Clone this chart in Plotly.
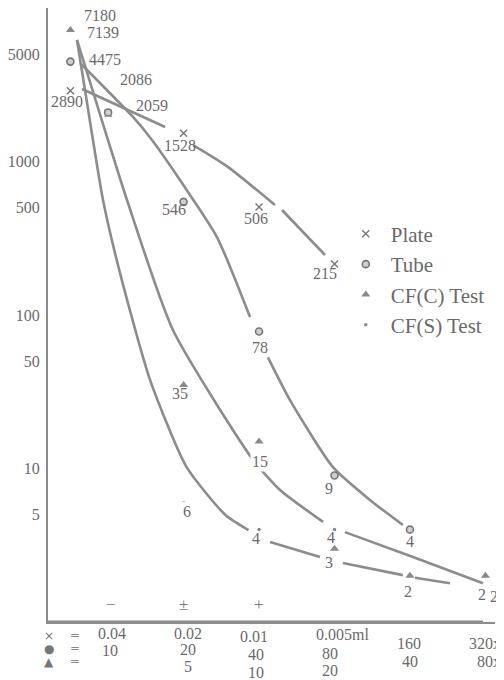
import numpy as np
import plotly.graph_objects as go

# ---------------- data ----------------
# column positions: 0.5 = undiluted, 1..6 = dilution steps
plate_x = [0.5, 1, 2, 3, 4]
plate_y = [2890, 2059, 1528, 506, 215]
tube_x = [0.5, 1, 2, 3, 4, 5]
tube_y = [4475, 2086, 546, 78, 9, 4]
cfc_x = [0.5, 2, 3, 4, 5, 6]
cfc_y = [7180, 35, 15, 3, 2, 2]
cfs_x = [0.5, 2, 3, 4, 6]
cfs_y = [7139, 6, 4, 4, 2]

# hand-drawn curves (None = break in the stroke)
curve_a_x = [0.587, 0.799, 0.932, 1.157, 1.555, 2.04, 2.555, 2.86, None, 3.146, 3.808, None, 4.111, 4.906, None, 5.066, 5.53]
curve_a_y = [6190, 1380, 561, 188, 37.8, 10.2, 4.98, 3.97, None, 3.32, 2.65, None, 2.42, 2.02, None, 1.94, 1.79]
curve_b_x = [0.587, 0.998, 1.25, 1.859, 2.92, 3.278, 3.848, None, 4.138, 5.04, 5.968]
curve_b_y = [6190, 1380, 561, 79.8, 11.4, 7.24, 4.49, None, 3.85, 2.65, 1.79]
curve_tube_x = [0.628, 1.33, 1.581, 1.952, 2.442, 2.88, None, 3.118, 3.41, 3.98, 4.469, 4.906]
curve_tube_y = [4385, 1950, 1380, 757, 322, 97, None, 53, 27.9, 10.2, 6.24, 4.29]
curve_plate_x = [0.654, 1.755, None, 2.126, 2.577, 3.211, None, 3.304, 3.874]
curve_plate_y = [2965, 1679, None, 1279, 930, 521, None, 483, 246]

ref_levels = [10, 5]

y_tick_vals = [5, 10, 50, 100, 500, 1000, 5000]
y_tick_text = ["5", "10", "50", "100", "500", "1000", "5000"]

plate_ticks = ["0.04", "0.02", "0.01", "0.005ml"]          # columns 1-4
tube_ticks = ["10", "20", "40", "80", "160", "320x"]        # columns 1-6
cfc_ticks = ["5", "10", "20", "40", "80x"]                  # columns 2-6

bottom_marks = ["−", "±", "+"]                               # columns 1-3
bottom_level = 1.31

# ---------------- style ----------------
SERIF = "Liberation Serif, Times New Roman, serif"
TXT = "#6a6a6a"
LINE = "#8c8c8c"

fig = go.Figure()

def curve(xs, ys):
    fig.add_trace(go.Scatter(
        x=xs, y=ys, mode="lines", showlegend=False, hoverinfo="skip",
        line=dict(color=LINE, width=2.6, shape="spline", smoothing=0.6),
        connectgaps=False))

curve(curve_a_x, curve_a_y)
curve(curve_b_x, curve_b_y)
curve(curve_tube_x, curve_tube_y)
curve(curve_plate_x, curve_plate_y)

fig.add_trace(go.Scatter(x=plate_x, y=plate_y, mode="markers", name="Plate",
                         marker=dict(symbol="x-thin-open", size=7, color="#777",
                                     line=dict(width=1.4, color="#777")), cliponaxis=False))
fig.add_trace(go.Scatter(x=tube_x, y=tube_y, mode="markers", name="Tube",
                         marker=dict(symbol="circle", size=7, color="#cfcfcf",
                                     line=dict(width=1.6, color="#777")), cliponaxis=False))
fig.add_trace(go.Scatter(x=cfc_x, y=cfc_y, mode="markers", name="CF(C) Test",
                         marker=dict(symbol="triangle-up", size=8, color="#8a8a8a"), cliponaxis=False))
fig.add_trace(go.Scatter(x=cfs_x, y=cfs_y, mode="markers", name="CF(S) Test",
                         marker=dict(symbol="circle", size=3.5, color="#888"), cliponaxis=False))

annotations = []

def lab(x, v, text, dx, dy, size=16):
    annotations.append(dict(x=x, y=float(np.log10(v)), xref="x", yref="y", text=text,
                            showarrow=False, xshift=dx, yshift=-dy,
                            font=dict(family=SERIF, size=size, color=TXT),
                            bgcolor="rgba(255,255,255,0)"))

# point labels: (dx, dy) pixel offsets of the number from its marker
plate_off = [(-3, 11), (44, -8), (-4, 12), (-3, 12), (-10, 10)]
tube_off = [(35, -2), (28, -33), (-10, 8), (1, 16), (-6, 13), (0, 12)]
cfc_off = [(30, -15), (-4, 9), (1, 20), (-6, 14), (-2, 16), (-3, 19)]
cfs_off = [(33, 2), (3, 9), (-3, 9), (-4, 8), (9, 21)]

for xs, ys, offs in [(plate_x, plate_y, plate_off), (tube_x, tube_y, tube_off),
                     (cfc_x, cfc_y, cfc_off), (cfs_x, cfs_y, cfs_off)]:
    for x, v, (dx, dy) in zip(xs, ys, offs):
        lab(x, v, str(v), dx, dy)

# white patches behind labels that interrupt the reference lines
for a in annotations:
    if a["text"] in ("6", "15"):
        a["bgcolor"] = "white"

# bottom +/- marks
for i, m in enumerate(bottom_marks):
    annotations.append(dict(x=i + 1, y=float(np.log10(bottom_level)), xref="x", yref="y",
                            text=m, showarrow=False, xshift=3 if i == 0 else 0,
                            font=dict(family=SERIF, size=17, color="#777")))

# multi-row x tick labels
def xt(col, text, below, dx, anchor="center"):
    annotations.append(dict(x=col, y=0, xref="x", yref="paper", text=text, showarrow=False,
                            xshift=dx, yshift=-below, yanchor="middle", xanchor=anchor,
                            font=dict(family=SERIF, size=16, color=TXT)))

plate_rows = [(11, 4), (11, 4), (14, -5), (12, 8)]
tube_rows = [(28, 2), (27, 4), (32, -3), (31, -5), (21, -1), (21, 18)]
cfc_rows = [(44, 4), (50, -3), (48, -5), (39, 0), (39, 18)]
for i, t in enumerate(plate_ticks):
    xt(i + 1, t, *plate_rows[i])
for i, t in enumerate(tube_ticks):
    b, dx = tube_rows[i]
    xt(i + 1, t, b, dx, "right" if i == 5 else "center")
for i, t in enumerate(cfc_ticks):
    b, dx = cfc_rows[i]
    xt(i + 2, t, b, dx, "right" if i == 4 else "center")

# key at bottom-left
for sym, below in [("×", 14), ("●", 27), ("▲", 40)]:
    annotations.append(dict(x=0, y=0, xref="paper", yref="paper", text=sym, showarrow=False,
                            xshift=1, yshift=-below, yanchor="middle", xanchor="center",
                            font=dict(family="DejaVu Sans", size=12, color="#777")))
    annotations.append(dict(x=0, y=0, xref="paper", yref="paper", text="=", showarrow=False,
                            xshift=27, yshift=-below + 1, yanchor="middle", xanchor="center",
                            font=dict(family="DejaVu Sans", size=12, color="#888")))

shapes = []
for lvl, x1 in zip(ref_levels, [0.973, 0.996]):
    shapes.append(dict(type="line", xref="paper", yref="y", x0=0, x1=x1,
                       y0=float(np.log10(lvl)), y1=float(np.log10(lvl)),
                       line=dict(color="#8a8a8a", width=3), layer="below"))

# the page body adds an 8px offset, so the figure is 8px smaller than the window
fig.update_layout(
    width=496, height=672,
    margin=dict(l=40, r=9, t=0, b=58, autoexpand=False),
    paper_bgcolor="white", plot_bgcolor="white",
    font=dict(family=SERIF, color=TXT),
    xaxis=dict(range=[0.203, 6.127], showline=True, linecolor=LINE, linewidth=2,
               showticklabels=False, ticks="", showgrid=False, zeroline=False,
               automargin=False),
    yaxis=dict(type="log", range=[0, 4], showline=True, linecolor=LINE, linewidth=2,
               tickvals=y_tick_vals, ticktext=y_tick_text, ticks="", showgrid=False,
               zeroline=False, ticklabelstandoff=3, automargin=False,
               tickfont=dict(family=SERIF, size=16, color=TXT)),
    legend=dict(x=0.655, y=0.665, xanchor="left", yanchor="top",
                font=dict(family=SERIF, size=21, color=TXT),
                bgcolor="rgba(0,0,0,0)", itemwidth=40, tracegroupgap=0),
    annotations=annotations,
    shapes=shapes,
    showlegend=True,
)

fig.write_html("out.html")
